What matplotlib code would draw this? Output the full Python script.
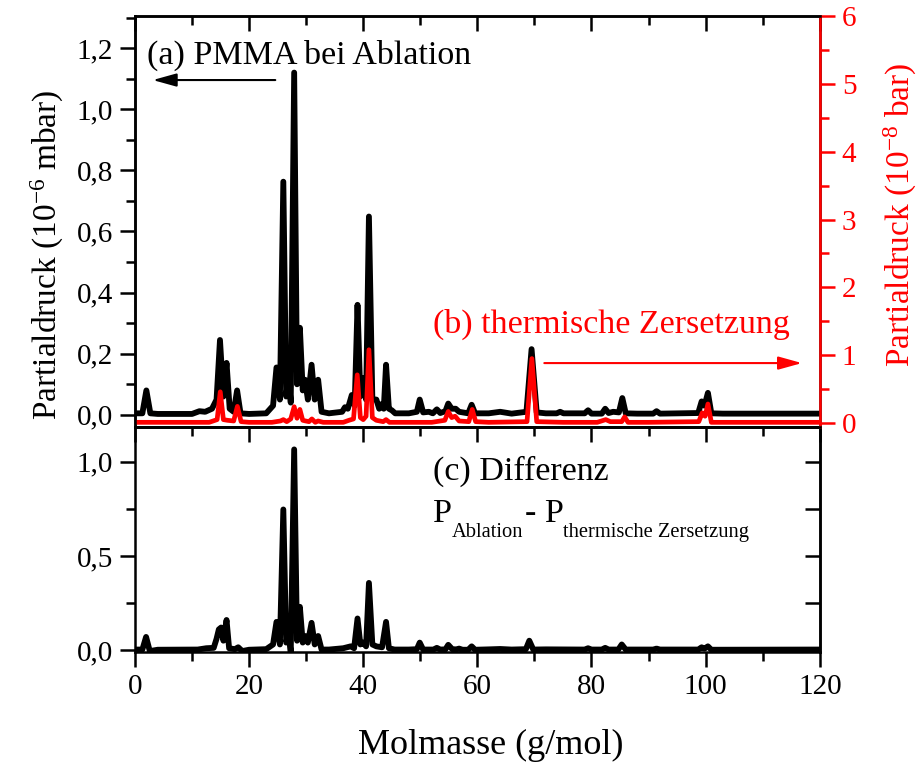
import matplotlib
matplotlib.use("Agg")
import matplotlib.pyplot as plt
from matplotlib.ticker import MultipleLocator, FixedLocator, FixedFormatter

plt.rcParams['font.family'] = ['Liberation Serif', 'DejaVu Serif']
plt.rcParams['mathtext.fontset'] = 'custom'
plt.rcParams['mathtext.rm'] = 'Liberation Serif'
plt.rcParams['mathtext.it'] = 'Liberation Serif:italic'
plt.rcParams['mathtext.bf'] = 'Liberation Serif:bold'

# (a) Ablation, Partialdruck in 1e-6 mbar
abl_m = [0, 1.3, 2.0, 2.7, 4, 10, 11.3, 12.3, 13.5, 14.3, 14.9, 15.5, 16.05, 16.6, 17.3, 17.9, 18.5,
         20, 23, 24.2, 24.8, 25.4, 26.0, 26.5, 26.9, 27.3, 27.9, 28.4, 28.9, 29.4, 29.8, 30.3,
         30.95, 31.5, 32.1, 32.7, 34, 36.3, 36.8, 37.3, 38.0, 38.5, 39.0, 39.5, 40.0, 40.5, 41.0,
         41.6, 42.3, 42.8, 43.2, 43.6, 44.0, 44.5, 45.0, 45.6, 48, 49.4, 49.9, 50.5, 51.5, 52.2,
         52.9, 53.5, 54.4, 54.9, 55.5, 56.2, 56.8, 58.4, 59.0, 59.6, 62, 64, 66, 68.6, 69.5, 70.4,
         72, 73.9, 74.5, 75.1, 77, 78.8, 79.4, 80.0, 81.8, 82.4, 83.0, 83.8, 84.8, 85.4, 86.0,
         88, 90.8, 91.4, 92, 98.7, 99.3, 99.8, 100.4, 101.0, 103, 110, 120]
abl_p = [0.005, 0.005, 0.08, 0.005, 0.003, 0.003, 0.012, 0.01, 0.02, 0.05, 0.245, 0.06, 0.17, 0.02,
         0.01, 0.08, 0.005, 0.003, 0.005, 0.03, 0.155, 0.05, 0.763, 0.06, 0.13, 0.04, 1.12, 0.1,
         0.285, 0.08, 0.115, 0.05, 0.164, 0.05, 0.115, 0.01, 0.005, 0.01, 0.025, 0.02, 0.065, 0.03,
         0.36, 0.06, 0.12, 0.05, 0.649, 0.05, 0.05, 0.02, 0.035, 0.02, 0.164, 0.02, 0.015, 0.005,
         0.005, 0.01, 0.05, 0.008, 0.01, 0.005, 0.018, 0.006, 0.012, 0.037, 0.02, 0.02, 0.01, 0.005,
         0.033, 0.005, 0.005, 0.01, 0.004, 0.01, 0.215, 0.008, 0.005, 0.005, 0.01, 0.005, 0.005,
         0.005, 0.015, 0.004, 0.004, 0.02, 0.006, 0.01, 0.008, 0.055, 0.005, 0.004, 0.004, 0.012,
         0.004, 0.006, 0.044, 0.03, 0.072, 0.005, 0.004, 0.004, 0.004]

# (b) thermische Zersetzung, Partialdruck in 1e-8 bar
therm_m = [0, 13, 14.4, 14.95, 15.5, 16.2, 17.3, 17.95, 18.6, 20, 24, 25.5, 26.0, 26.6, 27.3, 27.9,
           28.4, 28.9, 29.4, 29.9, 30.5, 31.0, 31.6, 32.1, 33, 36.5, 37.5, 38.3, 38.95, 39.5, 40.0,
           40.5, 41.0, 41.6, 42.3, 43.5, 44.0, 44.6, 48, 52, 54.3, 54.9, 55.5, 56.1, 56.8, 58.5,
           59.1, 59.7, 62, 68.7, 69.55, 70.4, 75, 81, 82.5, 83.3, 85.3, 85.8, 86.4, 90, 98.8, 99.4,
           99.9, 100.4, 101.0, 120]
therm_p = [0.01, 0.01, 0.05, 0.46, 0.05, 0.04, 0.03, 0.245, 0.02, 0.01, 0.01, 0.03, 0.05, 0.02, 0.06,
           0.24, 0.07, 0.2, 0.04, 0.03, 0.02, 0.06, 0.01, 0.03, 0.01, 0.01, 0.04, 0.06, 0.71, 0.08,
           0.05, 0.1, 1.08, 0.08, 0.04, 0.02, 0.05, 0.01, 0.01, 0.01, 0.04, 0.17, 0.08, 0.1, 0.03,
           0.02, 0.2, 0.02, 0.01, 0.02, 0.95, 0.02, 0.01, 0.01, 0.05, 0.02, 0.02, 0.09, 0.01, 0.01,
           0.02, 0.15, 0.1, 0.28, 0.01, 0.01]

# (c) Differenz P_Ablation - P_thermische Zersetzung, 1e-6 mbar
diff_m = [0, 1.3, 1.95, 2.6, 4, 11, 12.5, 13.8, 14.3, 14.7, 15.1, 15.5, 16.05, 16.5, 17.5, 18.1,
          18.8, 20, 23, 24.2, 24.8, 25.4, 26.0, 26.5, 26.9, 27.3, 27.9, 28.4, 28.9, 29.4, 29.8,
          30.3, 30.95, 31.5, 32.1, 32.7, 34, 36.5, 37.8, 38.4, 39.0, 39.5, 40.0, 40.5, 41.0, 41.6,
          42.3, 43.3, 44.0, 44.5, 45.5, 48, 49.4, 49.9, 50.5, 52.3, 52.9, 53.5, 54.4, 54.9, 55.6,
          56.3, 56.8, 57.4, 58.4, 59.0, 59.6, 62, 64, 66, 68.5, 69.1, 69.8, 72, 78.8, 79.4, 80.0,
          81.8, 82.4, 83.0, 84.7, 85.3, 86.0, 90.8, 91.4, 92.0, 98.7, 99.3, 99.8, 100.4, 101, 120]
diff_p = [0.003, 0.003, 0.07, -0.005, 0.002, 0.003, 0.01, 0.012, 0.06, 0.11, 0.12, 0.05, 0.16, 0.01,
          0.005, 0.015, -0.005, 0.002, 0.005, 0.03, 0.15, 0.03, 0.747, 0.04, 0.09, -0.01, 1.066,
          0.05, 0.23, 0.04, 0.075, 0.04, 0.145, 0.03, 0.075, 0.003, 0.003, 0.01, 0.02, 0.01, 0.168,
          0.03, 0.04, 0.02, 0.357, 0.03, 0.02, 0.015, 0.15, 0.01, 0.003, 0.003, 0.005, 0.04, 0.003,
          0.003, 0.012, 0.003, 0.004, 0.028, 0.005, 0.004, 0.008, 0.002, 0.002, 0.02, 0.002, 0.004,
          0.006, 0.003, 0.005, 0.05, 0.003, 0.004, 0.003, 0.01, 0.003, 0.003, 0.012, 0.003, 0.003,
          0.03, 0.003, 0.003, 0.008, 0.003, 0.003, 0.015, 0.008, 0.02, 0.002, 0.003]

x_ticks = [0, 20, 40, 60, 80, 100, 120]
x_labels = ['0', '20', '40', '60', '80', '100', '120']
top_ticks = [0.0, 0.2, 0.4, 0.6, 0.8, 1.0, 1.2]
top_labels = ['0,0', '0,2', '0,4', '0,6', '0,8', '1,0', '1,2']
red_ticks = [0, 1, 2, 3, 4, 5, 6]
red_labels = ['0', '1', '2', '3', '4', '5', '6']
bot_ticks = [0.0, 0.5, 1.0]
bot_labels = ['0,0', '0,5', '1,0']

RED = '#ff0000'
LW = 1.8
FS_TICK = 21
FS_LABEL = 24
FS_NOTE = 24.5
FS_SUB = 14.8
MAJ, MIN = 10.8, 6.5

fig = plt.figure(figsize=(9.18, 7.64), dpi=100)
ax1 = fig.add_axes([0.147, 0.441, 0.746, 0.538])
ax2 = fig.add_axes([0.147, 0.1466, 0.746, 0.2945])
axr = ax1.twinx()

# oberes Panel
ax1.plot(abl_m, abl_p, color='black', lw=4.2, solid_joinstyle='round')
axr.plot(therm_m, therm_p, color=RED, lw=3.4, solid_joinstyle='round')
ax1.set_xlim(0, 120)
ax1.set_ylim(-0.04, 1.305)
axr.set_ylim(-0.06, 6.0)

ax1.xaxis.set_major_locator(FixedLocator(x_ticks))
ax1.xaxis.set_minor_locator(MultipleLocator(10))
ax1.tick_params(axis='x', which='both', bottom=False, top=True, labelbottom=False,
                direction='in', width=LW)
ax1.tick_params(axis='x', which='major', length=MAJ)
ax1.tick_params(axis='x', which='minor', length=MIN)
ax1.yaxis.set_major_locator(FixedLocator(top_ticks))
ax1.yaxis.set_major_formatter(FixedFormatter(top_labels))
ax1.yaxis.set_minor_locator(MultipleLocator(0.1))
ax1.tick_params(axis='y', which='both', direction='out', width=LW, labelsize=FS_TICK, pad=5)
ax1.tick_params(axis='y', which='major', length=MAJ)
ax1.tick_params(axis='y', which='minor', length=MIN)

axr.yaxis.set_major_locator(FixedLocator(red_ticks))
axr.yaxis.set_major_formatter(FixedFormatter(red_labels))
axr.yaxis.set_minor_locator(MultipleLocator(0.5))
axr.tick_params(axis='y', which='both', direction='out', width=LW, colors=RED,
                labelsize=FS_TICK, pad=5)
axr.tick_params(axis='y', which='major', length=MAJ)
axr.tick_params(axis='y', which='minor', length=MIN)
for s in ax1.spines.values():
    s.set_linewidth(LW)
for s in axr.spines.values():
    s.set_linewidth(LW)
axr.spines['right'].set_color(RED)

# unteres Panel
ax2.plot(diff_m, diff_p, color='black', lw=4.2, solid_joinstyle='round')
ax2.set_xlim(0, 120)
ax2.set_ylim(-0.01, 1.185)
ax2.xaxis.set_major_locator(FixedLocator(x_ticks))
ax2.xaxis.set_major_formatter(FixedFormatter(x_labels))
ax2.xaxis.set_minor_locator(MultipleLocator(10))
ax2.yaxis.set_major_locator(FixedLocator(bot_ticks))
ax2.yaxis.set_major_formatter(FixedFormatter(bot_labels))
ax2.yaxis.set_minor_locator(MultipleLocator(0.25))
ax2.tick_params(which='both', direction='out', width=LW, labelsize=FS_TICK, pad=5,
                top=False, right=False)
ax2.tick_params(which='major', length=MAJ)
ax2.tick_params(which='minor', length=MIN)
for s in ax2.spines.values():
    s.set_linewidth(LW)

sec_top = ax2.secondary_xaxis('top')
sec_top.xaxis.set_major_locator(FixedLocator(x_ticks))
sec_top.xaxis.set_minor_locator(MultipleLocator(10))
sec_top.tick_params(which='both', direction='in', width=LW, labeltop=False)
sec_top.tick_params(which='major', length=MAJ)
sec_top.tick_params(which='minor', length=MIN)
sec_top.spines['top'].set_linewidth(LW)

sec_right = ax2.secondary_yaxis('right')
sec_right.yaxis.set_major_locator(FixedLocator(bot_ticks))
sec_right.yaxis.set_minor_locator(MultipleLocator(0.25))
sec_right.tick_params(which='both', direction='in', width=LW, length=MAJ, labelright=False)
sec_right.spines['right'].set_linewidth(LW)

fig.text(491 / 918, 1 - 745 / 764, 'Molmasse (g/mol)', ha='center', va='center',
         fontsize=26)
fig.text(47 / 918, 1 - 255 / 764, r'Partialdruck (10$^{\mathrm{-6}}$ mbar)', rotation=90,
         ha='center', va='center', fontsize=FS_LABEL)
fig.text(900 / 918, 1 - 215 / 764, r'Partialdruck (10$^{\mathrm{-8}}$ bar)', rotation=90,
         ha='center', va='center', fontsize=FS_LABEL, color=RED)

# Beschriftungen und Pfeile
ax1.text(0.0175, 0.883, '(a) PMMA bei Ablation', transform=ax1.transAxes,
         fontsize=FS_NOTE, va='baseline', ha='left')
ax1.annotate('', xy=(0.022, 0.8443), xytext=(0.209, 0.8443), xycoords='axes fraction',
             arrowprops=dict(arrowstyle='-|>,head_length=0.72,head_width=0.2',
                             mutation_scale=20, lw=1.5, color='black'))
ax1.text(0.435, 0.2287, '(b) thermische Zersetzung', transform=ax1.transAxes,
         fontsize=FS_NOTE, va='baseline', ha='left', color=RED)
ax1.annotate('', xy=(0.978, 0.1557), xytext=(0.5937, 0.1557), xycoords='axes fraction',
             arrowprops=dict(arrowstyle='-|>,head_length=0.72,head_width=0.2',
                             mutation_scale=20, lw=1.5, color=RED))

ax2.text(0.435, 0.764, '(c) Differenz', transform=ax2.transAxes,
         fontsize=FS_NOTE, va='baseline', ha='left')
ax2.text(0.435, 0.579, 'P', transform=ax2.transAxes, fontsize=FS_NOTE, va='baseline')
ax2.text(0.462, 0.5124, 'Ablation', transform=ax2.transAxes, fontsize=FS_SUB, va='baseline')
ax2.text(0.569, 0.579, '- P', transform=ax2.transAxes, fontsize=FS_NOTE, va='baseline')
ax2.text(0.6248, 0.5124, 'thermische Zersetzung', transform=ax2.transAxes,
         fontsize=FS_SUB, va='baseline')

fig.savefig('out.png', dpi=100)
